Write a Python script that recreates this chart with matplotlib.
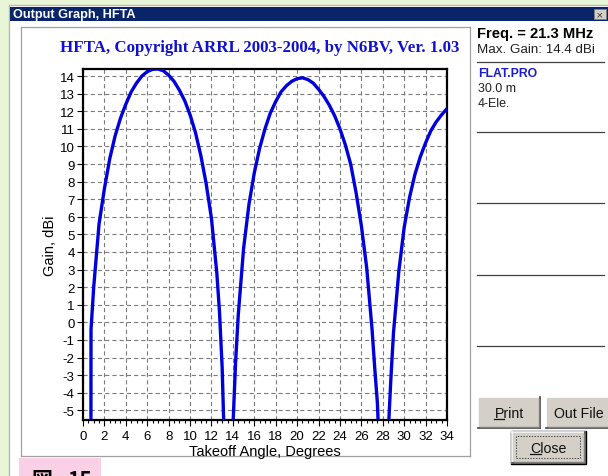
import matplotlib
matplotlib.use('Agg')
import matplotlib.pyplot as plt
from matplotlib.patches import Rectangle
from matplotlib.lines import Line2D
from matplotlib.ticker import MultipleLocator

# ---------------- data ----------------
angles = [0.7, 0.75, 1.0, 1.5, 2.0, 2.5, 3.0, 3.5, 4.0, 4.5, 5.0, 5.5, 6.0, 6.5,
          7.0, 7.5, 8.0, 8.5, 9.0, 9.5, 10.0, 10.5, 11.0, 11.5, 12.0, 12.5,
          12.75, 13.0, 13.25, 13.5, 13.75, 14.0, 14.25, 14.5, 15.0, 15.5, 16.0,
          16.5, 17.0, 17.5, 18.0, 18.5, 19.0, 19.5, 20.0, 20.5, 21.0, 21.5,
          22.0, 22.5, 23.0, 23.5, 24.0, 24.5, 25.0, 25.5, 26.0, 26.5, 27.0,
          27.25, 27.5, 27.75, 28.0, 28.25, 28.5, 28.75, 29.0, 29.5, 30.0,
          30.5, 31.0, 31.5, 32.0, 32.5, 33.0, 33.5, 34.0]
gains = [-30.0, -0.4, 2.0, 5.6, 7.6, 9.3, 10.6, 11.6, 12.4, 13.1, 13.6, 14.0, 14.25, 14.38,
         14.4, 14.3, 14.05, 13.7, 13.2, 12.6, 11.8, 10.8, 9.5, 7.9, 5.9, 2.8,
         0.6, -2.6, -8.0, -25.0, -15.0, -6.0, -2.3, 0.4, 4.2, 6.7, 8.5,
         9.9, 11.0, 11.9, 12.55, 13.1, 13.45, 13.7, 13.85, 13.9, 13.8, 13.6,
         13.25, 12.85, 12.35, 11.75, 11.0, 10.1, 9.0, 7.4, 5.5, 3.1, -0.4,
         -2.6, -4.6, -8.5, -30.0, -14.0, -6.4, -3.3, -0.6, 2.9, 5.4,
         7.1, 8.4, 9.4, 10.2, 10.9, 11.4, 11.8, 12.15]

x_ticks = list(range(0, 35, 2))
x_tick_labels = [str(v) for v in x_ticks]
y_ticks = list(range(-5, 15))
y_tick_labels = [str(v) for v in y_ticks]

window_title = "Output Graph, HFTA"
chart_title = "HFTA, Copyright ARRL 2003-2004, by N6BV, Ver. 1.03"
x_label = "Takeoff Angle, Degrees"
y_label = "Gain, dBi"
freq_text = "Freq. = 21.3 MHz"
max_gain_text = "Max. Gain: 14.4 dBi"
file_text = "FLAT.PRO"
height_text = "30.0 m"
ant_text = "4-Ele."
caption_fig = "図"
caption_num = "15"

# ---------------- figure ----------------
W, H, DPI = 608, 477, 100
plt.rcParams['font.family'] = ['Liberation Sans', 'DejaVu Sans']
plt.rcParams['lines.scale_dashes'] = False
fig = plt.figure(figsize=(W / DPI, H / DPI), dpi=DPI)
fig.patch.set_facecolor('#e8f5d6')


def fx(x):
    return x / W


def fy(y):
    return 1 - y / H


def rect(x0, y0, x1, y1, z=-5, **kw):
    r = Rectangle((fx(x0), fy(y1)), (x1 - x0) / W, (y1 - y0) / H,
                  transform=fig.transFigure, zorder=z, **kw)
    fig.add_artist(r)
    return r


def seg(x0, y0, x1, y1, z=2, **kw):
    ln = Line2D([fx(x0), fx(x1)], [fy(y0), fy(y1)], transform=fig.transFigure,
                zorder=z, **kw)
    fig.add_artist(ln)
    return ln


def txt(x, y, s, **kw):
    return fig.text(fx(x), fy(y), s, **kw)


# window body and frame
rect(9, 6, 609, 478, z=-9, facecolor='white', edgecolor='#b8b8b8', linewidth=1.0)
rect(10, 8, 609, 22, z=-8, facecolor='#0a246a', edgecolor='none')
txt(13, 15, window_title, color='white', fontsize=9.2, fontweight='bold',
    ha='left', va='center')
# title bar close box
rect(594, 10, 606, 20, z=-7, facecolor='#d4d0c8', edgecolor='#808080', linewidth=0.6)
txt(600, 15.3, "×", fontsize=6.5, color='#303030', ha='center', va='center',
    family=['DejaVu Sans'])

# graph panel frame
seg(20.5, 28, 470, 28, color='#a0a0a0', lw=0.9)
seg(20.5, 28, 20.5, 457, color='#a0a0a0', lw=0.9)
seg(20.5, 457, 470, 457, color='#a0a0a0', lw=0.9)
seg(470, 28, 470, 457, color='#a0a0a0', lw=0.9)

# caption box
rect(19, 459, 101, 478, z=-6, facecolor='#f9d0e6', edgecolor='none')
txt(31, 470.5, caption_fig, fontsize=15, fontweight='bold', ha='left', va='top',
    family=['Noto Sans CJK JP', 'DejaVu Sans'])
txt(67, 470.5, caption_num, fontsize=15, fontweight='bold', ha='left', va='top',
    family=['Noto Sans CJK JP', 'DejaVu Sans'])

# chart title
txt(260, 48, chart_title, color='#1010d0', fontsize=12.2, fontweight='bold',
    ha='center', va='center', family=['Liberation Serif', 'DejaVu Serif'])

# ---------------- axes ----------------
ax = fig.add_axes([fx(83), fy(421), (447 - 83) / W, (421 - 70) / H])
ax.set_facecolor('white')
ax.plot(angles, gains, color='#0000dc', lw=2.4, solid_joinstyle='round',
        solid_capstyle='butt', zorder=3)
ax.set_xlim(0, 34)
ax.set_ylim(-5.55, 14.4)
ax.set_xticks(x_ticks)
ax.set_xticklabels(x_tick_labels)
ax.set_yticks(y_ticks)
ax.set_yticklabels(y_tick_labels)
ax.xaxis.set_minor_locator(MultipleLocator(0.5))
ax.grid(True, which='major', color='#7a7a7a', lw=0.8, ls=(0, (3.0, 2.2)))
ax.set_axisbelow(True)
for s in ax.spines.values():
    s.set_linewidth(1.6)
    s.set_color('black')
ax.tick_params(axis='x', which='major', length=4, width=0.8, pad=3, labelsize=9.5)
ax.tick_params(axis='x', which='minor', length=2.5, width=0.8)
ax.tick_params(axis='y', which='major', length=4, width=0.8, pad=2, labelsize=9.5)
for lab in ax.get_xticklabels() + ax.get_yticklabels():
    lab.set_family(['Liberation Sans Narrow', 'Liberation Sans', 'DejaVu Sans'])

txt(265, 452, x_label, fontsize=10.5, ha='center', va='center')
txt(50, 245.5, y_label, fontsize=10.5, ha='center', va='center', rotation=90)

# ---------------- right panel ----------------
txt(477, 34, freq_text, fontsize=10.6, fontweight='bold', ha='left', va='center')
txt(477, 50, max_gain_text, fontsize=9.6, ha='left', va='center', color='#202020')
for yy in (63, 133, 204, 276, 347):
    seg(477, yy, 604, yy, color='#404040', lw=0.9)
txt(478, 74, file_text, fontsize=8.8, fontweight='bold', color='#1a1ad0',
    ha='left', va='center')
txt(478, 89, height_text, fontsize=9, ha='left', va='center', color='#202020')
txt(478, 104, ant_text, fontsize=9, ha='left', va='center', color='#202020')


def button(x0, y0, x1, y1, label, default=False):
    rect(x0, y0, x1, y1, z=-4, facecolor='#d4d0c8', edgecolor='none')
    seg(x0, y0, x1, y0, color='white', lw=1.2)
    seg(x0, y0, x0, y1, color='white', lw=1.2)
    seg(x0, y1, x1, y1, color='#404040', lw=1.2)
    seg(x1, y0, x1, y1, color='#404040', lw=1.2)
    seg(x0 + 1.5, y1 - 1.5, x1 - 1.5, y1 - 1.5, color='#808080', lw=1.0)
    seg(x1 - 1.5, y0 + 1.5, x1 - 1.5, y1 - 1.5, color='#808080', lw=1.0)
    if default:
        r = rect(x0 - 1, y0 - 1, x1 + 1, y1 + 1, z=-3, facecolor='none',
                 edgecolor='black', linewidth=1.0)
        rect(x0 + 4, y0 + 4, x1 - 5, y1 - 5, z=-3, facecolor='none',
             edgecolor='#303030', linewidth=0.6, linestyle=(0, (1, 1)))
    t = txt((x0 + x1) / 2, (y0 + y1) / 2 + 0.5, label, fontsize=10.2,
            ha='center', va='center', color='#101010')
    return t


btn_texts = [button(478, 398, 540, 429, "Print"),
             button(546, 398, 612, 429, "Out File"),
             button(512, 433, 585, 464, "Close", default=True)]

# underline access keys
fig.canvas.draw()
rend = fig.canvas.get_renderer()
for t, idx_char in ((btn_texts[0], 'P'), (btn_texts[2], 'C')):
    bb = t.get_window_extent(rend)
    tmp = fig.text(0, 0, idx_char, fontsize=t.get_fontsize())
    wb = tmp.get_window_extent(rend)
    tmp.remove()
    ybase = bb.y0 + 1
    ln = Line2D([bb.x0, bb.x0 + wb.width], [ybase, ybase], transform=None,
                color='#101010', lw=0.9, zorder=4)
    fig.add_artist(ln)

fig.savefig('out.png', dpi=DPI, facecolor=fig.get_facecolor())
